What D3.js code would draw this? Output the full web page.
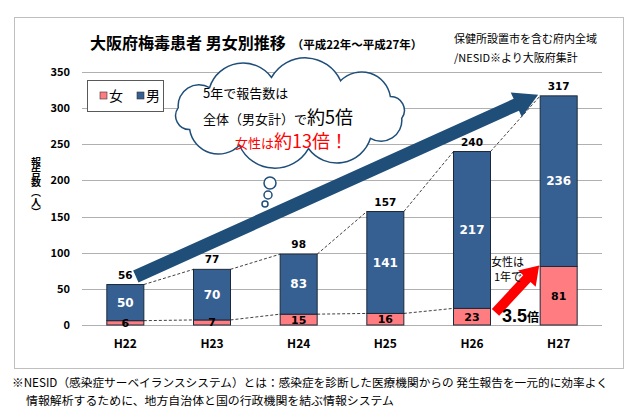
<!DOCTYPE html>
<html>
<head>
<meta charset="utf-8">
<script src="https://cdn.jsdelivr.net/npm/d3@7"></script>
<style>
  body { margin: 0; background: #fff; }
  svg { display: block; font-family: "Noto Sans CJK JP", "Noto Sans", sans-serif; }
</style>
</head>
<body>
<svg width="640" height="417"></svg>
<script>
// data
const categories = ['H22', 'H23', 'H24', 'H25', 'H26', 'H27'];
const female = [6, 7, 15, 16, 23, 81];
const male = [50, 70, 83, 141, 217, 236];
const yTicks = [0, 50, 100, 150, 200, 250, 300, 350];

const femaleColor = '#FF7C80';
const maleColor = '#376092';
const arrowBlue = '#1F4E79';

const svg = d3.select('svg');

const x = d3.scaleBand()
  .domain(categories)
  .range([82, 602])
  .paddingInner(0.573)
  .paddingOuter(0.2865);

const y = d3.scaleLinear()
  .domain([0, 350])
  .range([325, 72]);

const rows = categories.map((c, i) => ({
  cat: c, f: female[i], m: male[i], t: female[i] + male[i]
}));

// frame
svg.append('rect')
  .attr('x', 14.5).attr('y', 17.5)
  .attr('width', 609).attr('height', 351)
  .attr('fill', 'none')
  .attr('stroke', '#BFBFBF');

// title
const title = svg.append('text')
  .attr('x', 90).attr('y', 49)
  .attr('font-weight', 'bold')
  .attr('font-size', 16)
  .text('大阪府梅毒患者 男女別推移');
title.append('tspan')
  .attr('dx', 6)
  .attr('font-size', 11.5)
  .text('（平成22年～平成27年）');

svg.append('text')
  .attr('x', 454).attr('y', 43)
  .attr('font-size', 11)
  .text('保健所設置市を含む府内全域');
svg.append('text')
  .attr('x', 454).attr('y', 62)
  .attr('font-size', 11)
  .text('/NESID※より大阪府集計');

// gridlines
svg.append('g')
  .selectAll('line')
  .data(yTicks)
  .join('line')
  .attr('x1', 82).attr('x2', 602)
  .attr('y1', d => Math.round(y(d)) + 0.5)
  .attr('y2', d => Math.round(y(d)) + 0.5)
  .attr('stroke', '#B0B0B0')
  .attr('stroke-width', 1);

// y axis
const yAxis = svg.append('g')
  .attr('transform', 'translate(82,0)')
  .call(d3.axisLeft(y).tickValues(yTicks).tickSize(0).tickPadding(12));
yAxis.select('.domain').remove();
yAxis.selectAll('text')
  .attr('font-family', '"Noto Sans CJK JP", sans-serif')
  .attr('font-size', 11)
  .attr('font-weight', 'bold')
  .attr('fill', '#000');

svg.append('text')
  .attr('x', 36).attr('y', 157)
  .attr('writing-mode', 'vertical-rl')
  .attr('font-size', 10)
  .attr('font-weight', 'bold')
  .text('報告数（人）');

// x axis
const xAxis = svg.append('g')
  .attr('transform', 'translate(0,325)')
  .call(d3.axisBottom(x).tickSize(0).tickPadding(14));
xAxis.select('.domain').remove();
xAxis.selectAll('text')
  .attr('font-family', '"Noto Sans CJK JP", sans-serif')
  .attr('font-size', 12)
  .attr('font-weight', 'bold')
  .attr('fill', '#000');

// dashed connectors
const dashG = svg.append('g')
  .attr('stroke', '#404040')
  .attr('stroke-dasharray', '3,2')
  .attr('stroke-width', 1);
rows.slice(0, -1).forEach((d, i) => {
  const n = rows[i + 1];
  dashG.append('line')
    .attr('x1', x(d.cat) + x.bandwidth()).attr('y1', y(d.t))
    .attr('x2', x(n.cat)).attr('y2', y(n.t));
  if (i < rows.length - 2) {
    dashG.append('line')
      .attr('x1', x(d.cat) + x.bandwidth()).attr('y1', y(d.f))
      .attr('x2', x(n.cat)).attr('y2', y(n.f));
  }
});

// bars
const bars = svg.append('g');
bars.selectAll('rect.f')
  .data(rows)
  .join('rect')
  .attr('class', 'f')
  .attr('x', d => x(d.cat))
  .attr('y', d => y(d.f))
  .attr('width', x.bandwidth())
  .attr('height', d => y(0) - y(d.f))
  .attr('fill', femaleColor)
  .attr('stroke', '#1B2A3A');
bars.selectAll('rect.m')
  .data(rows)
  .join('rect')
  .attr('class', 'm')
  .attr('x', d => x(d.cat))
  .attr('y', d => y(d.t))
  .attr('width', x.bandwidth())
  .attr('height', d => y(d.f) - y(d.t))
  .attr('fill', maleColor)
  .attr('stroke', '#1B2A3A');

// cloud callout
function cloudPath(cx, cy, rx, ry, n) {
  const pts = [];
  for (let i = 0; i < n; i++) {
    const a = Math.PI + (i / n) * 2 * Math.PI + 0.15;
    pts.push([cx + rx * Math.cos(a), cy + ry * Math.sin(a)]);
  }
  let d = 'M' + pts[0].join(',');
  for (let i = 0; i < n; i++) {
    const p = pts[i], q = pts[(i + 1) % n];
    const r = Math.hypot(q[0] - p[0], q[1] - p[1]) * 0.56;
    d += `A${r},${r} 0 0 1 ${q[0]},${q[1]}`;
  }
  return d + 'Z';
}
const cloud = svg.append('g')
  .attr('fill', '#fff')
  .attr('stroke', '#1F4E79')
  .attr('stroke-width', 1.5);
cloud.append('path').attr('d', cloudPath(290, 113, 113, 36, 10));
cloud.append('circle').attr('cx', 270).attr('cy', 183).attr('r', 6);
cloud.append('circle').attr('cx', 268).attr('cy', 195).attr('r', 4);
cloud.append('circle').attr('cx', 265).attr('cy', 204).attr('r', 3);

svg.append('text')
  .attr('x', 203).attr('y', 98)
  .attr('font-size', 13)
  .text('5年で報告数は');
const l2 = svg.append('text')
  .attr('x', 203).attr('y', 124)
  .attr('font-size', 13)
  .text('全体（男女計）で');
l2.append('tspan').attr('font-size', 18).text('約5倍');
const l3 = svg.append('text')
  .attr('x', 235).attr('y', 148)
  .attr('font-size', 13)
  .attr('fill', '#FF0000')
  .text('女性は');
l3.append('tspan').attr('font-size', 18).text('約13倍！');

// arrows
function arrowPath(x0, y0, x1, y1, shaft, head, headLen) {
  const dx = x1 - x0, dy = y1 - y0;
  const len = Math.hypot(dx, dy);
  const ux = dx / len, uy = dy / len;
  const px = -uy, py = ux;
  const bx = x1 - ux * headLen, by = y1 - uy * headLen;
  const pts = [
    [x0 + px * shaft / 2, y0 + py * shaft / 2],
    [bx + px * shaft / 2, by + py * shaft / 2],
    [bx + px * head / 2, by + py * head / 2],
    [x1, y1],
    [bx - px * head / 2, by - py * head / 2],
    [bx - px * shaft / 2, by - py * shaft / 2],
    [x0 - px * shaft / 2, y0 - py * shaft / 2]
  ];
  return 'M' + pts.map(p => p.join(',')).join('L') + 'Z';
}

// H22 total -> H27 total
svg.append('path')
  .attr('d', arrowPath(x('H22') + x.bandwidth() - 8, y(male[0] + female[0]) - 8,
                       x('H27') - 2, y(male[5] + female[5]) - 1, 13, 27, 24))
  .attr('fill', arrowBlue);

// H26 female -> H27 female
svg.append('path')
  .attr('d', arrowPath(x('H26') + x.bandwidth() + 5, y(female[4]) + 4,
                       x('H27') - 1, y(female[5]) - 1, 10, 24, 18))
  .attr('fill', '#FF0000');

// labels
const labels = svg.append('g')
  .attr('text-anchor', 'middle')
  .attr('font-weight', 'bold')
  .attr('font-family', '"DejaVu Sans", sans-serif');
labels.selectAll('text.f')
  .data(rows)
  .join('text')
  .attr('class', 'f')
  .attr('x', d => x(d.cat) + x.bandwidth() / 2)
  .attr('y', d => (y(0) + y(d.f)) / 2)
  .attr('dy', '0.36em')
  .attr('font-size', 11)
  .text(d => d.f);
labels.selectAll('text.m')
  .data(rows)
  .join('text')
  .attr('class', 'm')
  .attr('x', d => x(d.cat) + x.bandwidth() / 2)
  .attr('y', d => (y(d.f) + y(d.t)) / 2)
  .attr('dy', '0.36em')
  .attr('font-size', 12)
  .attr('fill', '#fff')
  .text(d => d.m);
labels.selectAll('text.t')
  .data(rows)
  .join('text')
  .attr('class', 't')
  .attr('x', d => x(d.cat) + x.bandwidth() / 2)
  .attr('y', d => y(d.t) - 6)
  .attr('font-size', 10.5)
  .text(d => d.t);

// legend
const lg = svg.append('g').attr('transform', 'translate(87,80)');
lg.append('rect')
  .attr('x', 0.5).attr('y', 0.5).attr('width', 76).attr('height', 31)
  .attr('fill', '#fff').attr('stroke', '#595959');
[['女', femaleColor, 13], ['男', maleColor, 50]].forEach(([t, c, lx]) => {
  lg.append('rect')
    .attr('x', lx).attr('y', 12).attr('width', 7).attr('height', 7)
    .attr('fill', c).attr('stroke', '#333').attr('stroke-width', 0.6);
  lg.append('text')
    .attr('x', lx + 9).attr('y', 21)
    .attr('font-size', 14)
    .text(t);
});

svg.append('text')
  .attr('x', 491).attr('y', 266)
  .attr('font-size', 11)
  .text('女性は');
svg.append('text')
  .attr('x', 494).attr('y', 281)
  .attr('font-size', 11)
  .text('1年で');
const t35 = svg.append('text')
  .attr('x', 502).attr('y', 322)
  .attr('font-weight', 'bold')
  .attr('font-family', '"Liberation Sans", Arial, sans-serif')
  .attr('font-size', 18)
  .text('3.5');
t35.append('tspan')
  .attr('font-family', '"Noto Sans CJK JP", sans-serif')
  .attr('font-size', 12)
  .text('倍');

// footnote
svg.append('text')
  .attr('x', 12).attr('y', 387)
  .attr('font-size', 11.5)
  .attr('textLength', 596)
  .attr('lengthAdjust', 'spacingAndGlyphs')
  .text('※NESID（感染症サーベイランスシステム）とは：感染症を診断した医療機関からの 発生報告を一元的に効率よく');
svg.append('text')
  .attr('x', 26).attr('y', 405)
  .attr('font-size', 11.5)
  .attr('textLength', 368)
  .attr('lengthAdjust', 'spacingAndGlyphs')
  .text('情報解析するために、地方自治体と国の行政機関を結ぶ情報システム');
</script>
</body>
</html>
